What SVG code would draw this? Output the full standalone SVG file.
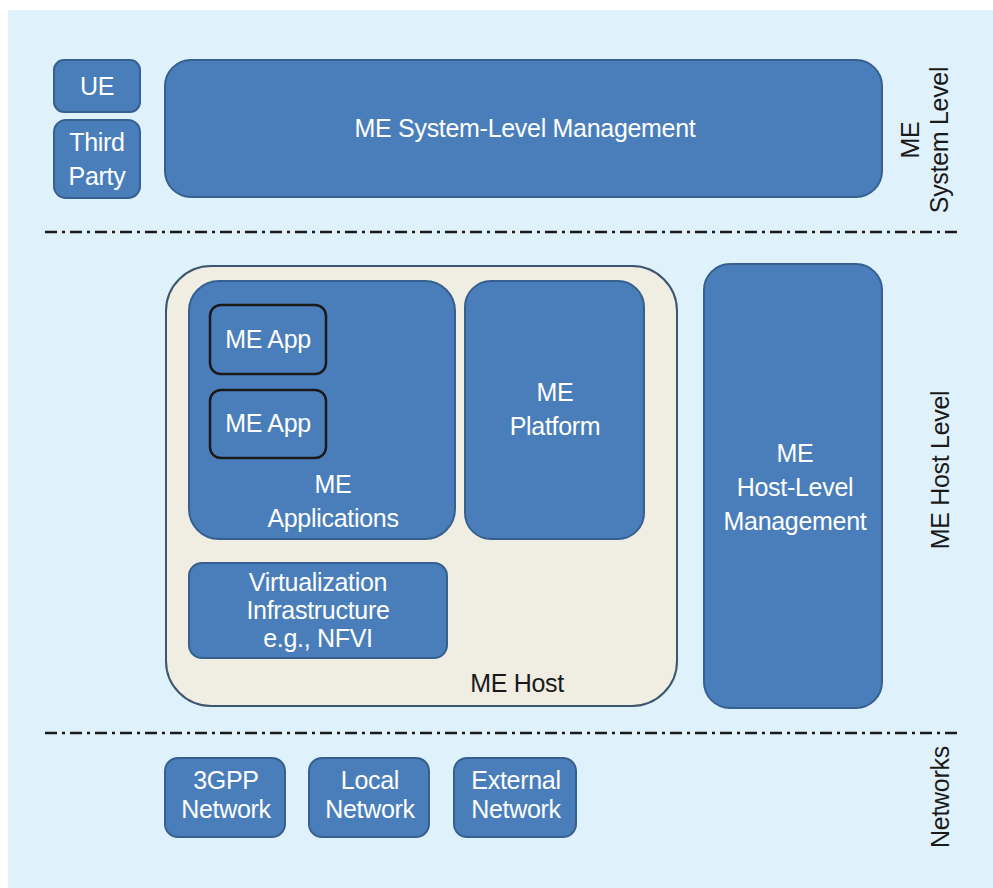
<svg xmlns="http://www.w3.org/2000/svg" width="993" height="888" viewBox="0 0 993 888">
<style>
.box{fill:#4a7ebb;stroke:#36608f;stroke-width:2}
.app{fill:#4a7ebb;stroke:#1a1a1a;stroke-width:2.5}
.host{fill:#f0ede2;stroke:#3d5670;stroke-width:2}
.wt{font-family:"Liberation Sans",Arial,sans-serif;font-size:25px;letter-spacing:-0.3px;fill:#ffffff;text-anchor:middle}
.bt{font-family:"Liberation Sans",Arial,sans-serif;font-size:25px;letter-spacing:-0.3px;fill:#1a1a1a;text-anchor:middle}
.sep{stroke:#1a1a1a;stroke-width:2.5;stroke-dasharray:12 5 3 5;fill:none}
</style>
<rect x="0" y="0" width="993" height="888" fill="#ffffff"/>
<rect x="8" y="10" width="985" height="878" fill="#dff1fb"/>
<g id="connectors">
<line class="sep" x1="45" y1="232" x2="962" y2="232"/>
<line class="sep" x1="45" y1="733" x2="962" y2="733"/>
</g>
<g id="ue"><rect class="box" x="54" y="60" width="86" height="52" rx="10"/><text class="wt" x="97" y="95">UE</text></g>
<g id="third-party"><rect class="box" x="54" y="120" width="86" height="78" rx="12"/><text class="wt" x="97" y="151">Third</text><text class="wt" x="97" y="185">Party</text></g>
<g id="system-mgmt"><rect class="box" x="165" y="60" width="717" height="137" rx="26"/><text class="wt" x="525" y="137">ME System-Level Management</text></g>
<g id="label-system"><text class="bt" transform="translate(919,140) rotate(-90)">ME</text><text class="bt" transform="translate(948,140) rotate(-90)">System Level</text></g>
<g id="me-host"><rect class="host" x="166" y="266" width="511" height="440" rx="45"/><text class="bt" x="517" y="692">ME Host</text></g>
<g id="me-applications"><rect class="box" x="189" y="281" width="266" height="258" rx="30"/><text class="wt" x="333" y="493">ME</text><text class="wt" x="333" y="527">Applications</text></g>
<g id="me-app-1"><rect class="app" x="210" y="305" width="116" height="69" rx="11"/><text class="wt" x="268" y="348">ME App</text></g>
<g id="me-app-2"><rect class="app" x="210" y="390" width="116" height="68" rx="11"/><text class="wt" x="268" y="432">ME App</text></g>
<g id="me-platform"><rect class="box" x="465" y="281" width="179" height="258" rx="26"/><text class="wt" x="555" y="401">ME</text><text class="wt" x="555" y="435">Platform</text></g>
<g id="virtualization"><rect class="box" x="189" y="563" width="258" height="95" rx="13"/><text class="wt" x="318" y="591">Virtualization</text><text class="wt" x="318" y="619">Infrastructure</text><text class="wt" x="318" y="647">e.g., NFVI</text></g>
<g id="host-mgmt"><rect class="box" x="704" y="264" width="178" height="444" rx="26"/><text class="wt" x="795" y="462">ME</text><text class="wt" x="795" y="496">Host-Level</text><text class="wt" x="795" y="530">Management</text></g>
<g id="label-host"><text class="bt" transform="translate(949,470) rotate(-90)">ME Host Level</text></g>
<g id="net-3gpp"><rect class="box" x="165" y="758" width="120" height="79" rx="13"/><text class="wt" x="226" y="789">3GPP</text><text class="wt" x="226" y="818">Network</text></g>
<g id="net-local"><rect class="box" x="309" y="758" width="120" height="79" rx="13"/><text class="wt" x="370" y="789">Local</text><text class="wt" x="370" y="818">Network</text></g>
<g id="net-external"><rect class="box" x="454" y="758" width="122" height="79" rx="13"/><text class="wt" x="516" y="789">External</text><text class="wt" x="516" y="818">Network</text></g>
<g id="label-networks"><text class="bt" transform="translate(949,797) rotate(-90)">Networks</text></g>
</svg>
